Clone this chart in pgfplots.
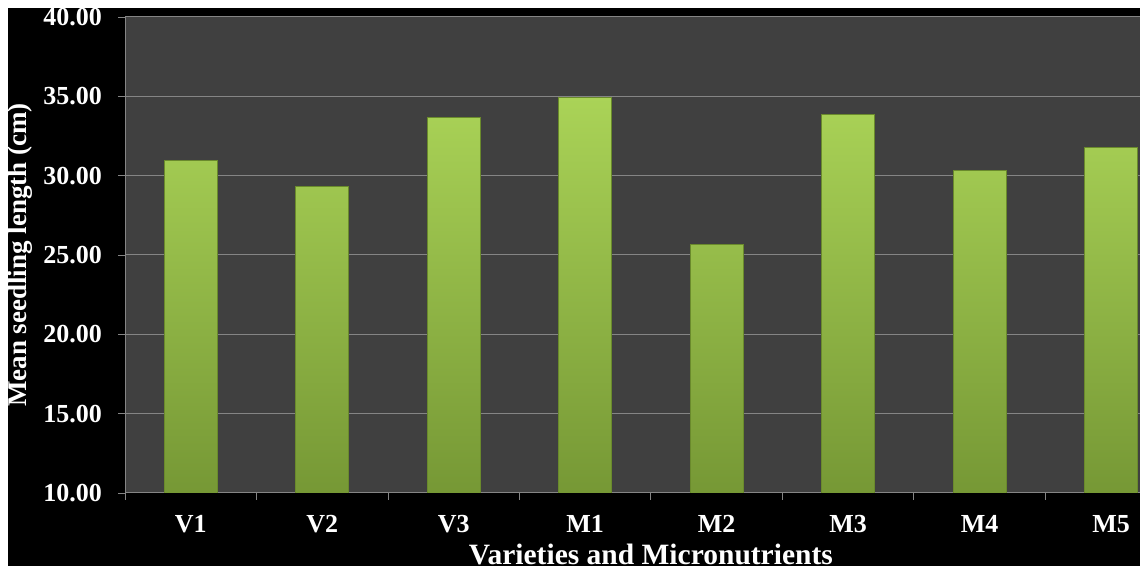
\documentclass[border=0pt]{standalone}
\usepackage{pgfplots}
\pgfplotsset{compat=1.18}
\usepackage{fontspec}
\setmainfont{Liberation Serif}
\definecolor{plotbg}{HTML}{404040}
\definecolor{gridc}{HTML}{858585}
\definecolor{bartop}{HTML}{AAD357}
\definecolor{barbot}{HTML}{769835}
\definecolor{baredge}{HTML}{6A8A2C}
\begin{document}
\begin{tikzpicture}[x=1pt,y=1pt]
\useasboundingbox[fill=white] (0,0) rectangle (1140,569);
\begin{scope}
\clip (8,3) rectangle (1140,561);
\fill[black] (8,3) rectangle (1140,561);
\begin{axis}[
  at={(125pt,76pt)}, anchor=south west,
  scale only axis, width=1015pt, height=476pt,
  xmin=-0.5, xmax=7.22, ymin=10, ymax=40,
  axis background/.style={fill=plotbg},
  axis x line*=bottom, axis y line*=left,
  axis line style={gridc, line width=1pt, -},
  xtick={0,...,7},
  xticklabels={V1,V2,V3,M1,M2,M3,M4,M5},
  minor xtick={-0.5,0.5,1.5,2.5,3.5,4.5,5.5,6.5},
  major x tick style={draw=none},
  minor x tick style={gridc, line width=0.8pt},
  minor tick length=7pt,
  ytick={10,15,...,40},
  y tick style={gridc, line width=0.8pt},
  major tick length=7pt,
  tick align=outside,
  ymajorgrids, grid style={gridc, line width=1pt},
  /pgf/number format/.cd, fixed, fixed zerofill, precision=2, assume math mode=true,
  /pgfplots/.cd,
  ticklabel style={font=\fontsize{26}{28}\selectfont\bfseries, text=white},
  yticklabel style={anchor=east, inner sep=0pt, xshift=-16pt},
  xticklabel style={anchor=base, inner sep=0pt, yshift=-33pt},
  ylabel={Mean seedling length (cm)},
  ylabel style={at={(axis description cs:-0.1034,0.5)}, anchor=center, rotate=0,
    font=\fontsize{27}{30}\selectfont\bfseries, text=white},
  ybar, bar width=53pt, bar shift=0pt,
  clip mode=individual,
]
\addplot[draw=baredge, line width=0.8pt, top color=bartop, bottom color=barbot]
  coordinates {(0,30.94) (1,29.30) (2,33.69) (3,34.95) (4,25.69) (5,33.88) (6,30.35) (7,31.80)};
\node[anchor=base, text=white, font=\fontsize{29.5}{32}\selectfont\bfseries] at (axis cs:3.5,10) [yshift=-71.5pt] {Varieties and Micronutrients};
\end{axis}
\end{scope}
\end{tikzpicture}
\end{document}
